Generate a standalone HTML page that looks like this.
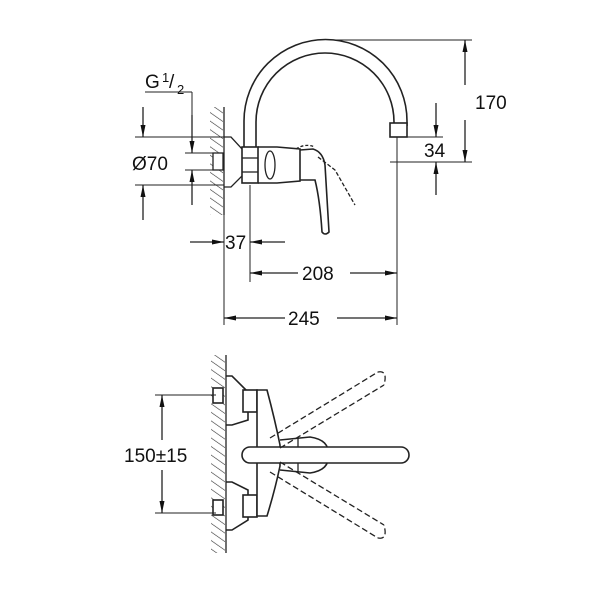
<!DOCTYPE html>
<html><head><meta charset="utf-8"><style>
html,body{margin:0;padding:0;background:#fff;}
svg{display:block;}
text{font-family:"Liberation Sans",sans-serif;fill:#111;}
</style></head><body>
<svg width="600" height="600" viewBox="0 0 600 600" xmlns="http://www.w3.org/2000/svg">
<defs>
<marker id="a" viewBox="0 0 12 6" refX="12" refY="3" markerWidth="12" markerHeight="6" orient="auto" markerUnits="userSpaceOnUse">
<path d="M0,0.5 L12,3 L0,5.5 Z" fill="#111"/></marker>
<pattern id="h" width="7" height="7" patternUnits="userSpaceOnUse" patternTransform="rotate(-55)">
<line x1="0" y1="0" x2="0" y2="7" stroke="#333" stroke-width="1.2"/></pattern>
</defs>
<g stroke="#222" stroke-width="1.3" fill="none">
<rect x="210" y="107" width="13" height="108" fill="url(#h)" stroke="none"/>
<line x1="224" y1="107" x2="224" y2="215"/>
<path d="M224,137 L231,137 L243,150 L243,175 L231,187 L224,187"/>
<rect x="213" y="153" width="10" height="17" fill="#fff"/>
<path d="M244,147 L244,121 A81.5,81.5 0 0 1 407,121 L407,126" stroke-width="1.6"/>
<path d="M256,147 L256,122 A69,69 0 0 1 394,122 L394,126" stroke-width="1.6"/>
<rect x="390" y="123" width="17" height="14" fill="#fff" stroke-width="1.6"/>
<rect x="242" y="147" width="16" height="36" fill="#fff" stroke-width="1.6"/>
<line x1="242" y1="158" x2="258" y2="158"/><line x1="242" y1="172" x2="258" y2="172"/>
<path d="M258,147 L277,147 L300,149 L300,181 L277,183 L258,183" stroke-width="1.6"/>
<ellipse cx="270" cy="165" rx="5" ry="14"/>
<path d="M300,150 L313,149 Q323,152 325,165 Q327,200 329,232 Q325,236 322,232 Q320,200 315,180 L300,180" stroke-width="1.6"/>
<path d="M296,149 Q305,143 315,147" stroke-dasharray="3,2"/>
<path d="M318,157 L335,170 L355,205" stroke-dasharray="4,2"/>
<line x1="330" y1="40" x2="472" y2="40" stroke-width="1"/>
<line x1="390" y1="162" x2="472" y2="162" stroke-width="1"/>
<line x1="407" y1="137" x2="443" y2="137" stroke-width="1"/>
<line x1="465" y1="85" x2="465" y2="40" marker-end="url(#a)"/>
<line x1="465" y1="120" x2="465" y2="162" marker-end="url(#a)"/>
<line x1="436" y1="103" x2="436" y2="137" marker-end="url(#a)"/>
<line x1="436" y1="195" x2="436" y2="162" marker-end="url(#a)"/>
<line x1="145" y1="92" x2="192" y2="92" stroke-width="1"/>
<line x1="192" y1="92" x2="192" y2="153" stroke-width="1"/>
<line x1="192" y1="115" x2="192" y2="153" marker-end="url(#a)"/>
<line x1="192" y1="205" x2="192" y2="170" marker-end="url(#a)"/>
<line x1="185" y1="153" x2="213" y2="153" stroke-width="1"/>
<line x1="185" y1="170" x2="213" y2="170" stroke-width="1"/>
<line x1="135" y1="137" x2="224" y2="137" stroke-width="1"/>
<line x1="135" y1="185" x2="224" y2="185" stroke-width="1"/>
<line x1="143" y1="107" x2="143" y2="137" marker-end="url(#a)"/>
<line x1="143" y1="220" x2="143" y2="185" marker-end="url(#a)"/>
<line x1="224" y1="187" x2="224" y2="325" stroke-width="1"/>
<line x1="250" y1="185" x2="250" y2="282" stroke-width="1"/>
<line x1="397" y1="137" x2="397" y2="325" stroke-width="1"/>
<line x1="190" y1="242" x2="224" y2="242" marker-end="url(#a)"/>
<line x1="285" y1="242" x2="250" y2="242" marker-end="url(#a)"/>
<line x1="298" y1="273" x2="250" y2="273" marker-end="url(#a)"/>
<line x1="350" y1="273" x2="397" y2="273" marker-end="url(#a)"/>
<line x1="285" y1="318" x2="224" y2="318" marker-end="url(#a)"/>
<line x1="337" y1="318" x2="397" y2="318" marker-end="url(#a)"/>

<rect x="211" y="355" width="14" height="198" fill="url(#h)" stroke="none"/>
<line x1="226" y1="355" x2="226" y2="553"/>
<path d="M226,376 L232,376 L248,392 L248,420 L232,425 L226,425" stroke-width="1.6"/>
<path d="M226,482 L232,482 L248,490 L248,520 L232,530 L226,530" stroke-width="1.6"/>
<rect x="213" y="388" width="10" height="15" fill="#fff" stroke-width="1.6"/>
<rect x="213" y="500" width="10" height="15" fill="#fff" stroke-width="1.6"/>
<rect x="243" y="390" width="14" height="22" fill="#fff" stroke-width="1.6"/>
<rect x="243" y="495" width="14" height="22" fill="#fff" stroke-width="1.6"/>
<path d="M257,390 L267,390 Q275,420 280,445 L280,466 Q275,490 267,516 L257,516 Z" fill="#fff" stroke-width="1.6"/>
<path d="M280,440 L310,437 Q330,440 328,455 Q330,470 310,473 L280,470" stroke-width="1.6"/>
<line x1="298" y1="438" x2="298" y2="472"/>
<path d="M250,447 L401,447 A8,8 0 0 1 401,463 L250,463 A8,8 0 0 1 250,447 Z" fill="#fff" stroke-width="1.6"/>
<g stroke-dasharray="6,3" stroke-width="1.3">
<line x1="270" y1="438" x2="378" y2="372"/>
<line x1="280" y1="448" x2="384" y2="385"/>
<path d="M378,372 Q388,370 384,385"/>
<line x1="270" y1="472" x2="378" y2="538"/>
<line x1="280" y1="462" x2="384" y2="525"/>
<path d="M378,538 Q388,540 384,525"/>
</g>
<line x1="155" y1="395" x2="216" y2="395" stroke-width="1"/>
<line x1="155" y1="513" x2="216" y2="513" stroke-width="1"/>
<line x1="162" y1="440" x2="162" y2="395" marker-end="url(#a)"/>
<line x1="162" y1="470" x2="162" y2="513" marker-end="url(#a)"/>
</g>
<g font-size="19">
<text x="145" y="88">G</text>
<text x="162" y="82" font-size="13">1</text>
<text x="169" y="88">/</text>
<text x="177" y="94" font-size="13">2</text>
<text x="132" y="170">Ø70</text>
<text x="475" y="109">170</text>
<text x="424" y="157">34</text>
<text x="225" y="249">37</text>
<text x="302" y="280">208</text>
<text x="288" y="325">245</text>
<rect x="124" y="445" width="78" height="20" fill="#fff"/>
<text x="124" y="462">150±15</text>
</g>
</svg>
</body></html>
